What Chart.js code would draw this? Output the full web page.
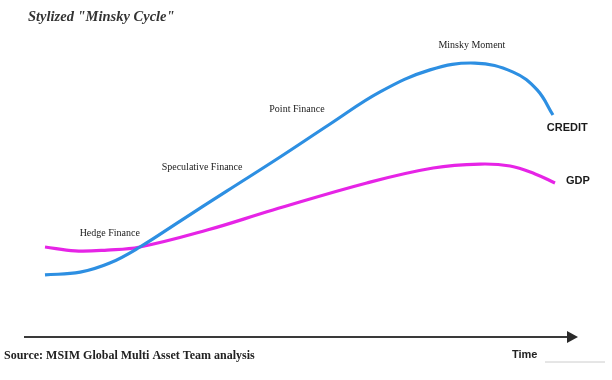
<!DOCTYPE html>
<html>
<head>
<meta charset="utf-8">
<script src="https://cdn.jsdelivr.net/npm/chart.js@4"></script>
<style>
  html, body { margin: 0; padding: 0; background: #fff; }
  #wrap { position: relative; width: 612px; height: 380px; }
</style>
</head>
<body>
<div id="wrap"><canvas id="minsky" width="612" height="380"></canvas></div>
<script>
// time runs 0..100 across the plot, level 0..100 is an arbitrary index
const creditTime  = [0, 6.9, 12.7, 18.6, 26.5, 35.7, 46.1, 55.9, 65.7, 75.5, 84.3, 91.8, 96.5, 99.6];
const creditLevel = [2.3, 3.6, 7.7, 15.0, 26.8, 40.5, 55.9, 70.9, 85.5, 95.5, 98.6, 94.5, 86.4, 75.0];

const gdpTime  = [0, 5.9, 12.2, 18.6, 31.8, 44.7, 63.1, 76.1, 85.3, 91.2, 96.1, 100];
const gdpLevel = [15.0, 13.2, 13.6, 15.0, 22.7, 31.8, 44.1, 50.9, 52.7, 51.8, 48.2, 44.1];

const phaseNames = ['Hedge Finance', 'Speculative Finance', 'Point Finance', 'Minsky Moment'];
const phaseTime  = [12.7, 30.8, 49.4, 83.7];
const phaseLevel = [21.4, 51.4, 77.7, 106.8];

const seriesNames = ['CREDIT', 'GDP'];
const seriesTagTime  = [102.4, 104.5];
const seriesTagLevel = [69.1, 45];

const toPoints = (xs, ys) => xs.map((x, i) => ({ x: x, y: ys[i] }));

const decorations = {
  id: 'decorations',
  afterDatasetsDraw(chart) {
    const ctx = chart.ctx;
    const xs = chart.scales.x, ys = chart.scales.y;
    ctx.save();

    // title
    ctx.fillStyle = '#333';
    ctx.font = 'italic bold 14.5px "Liberation Serif", serif';
    ctx.textBaseline = 'middle';
    ctx.textAlign = 'left';
    ctx.fillText('Stylized "Minsky Cycle"', 28, 17);

    // phase labels
    ctx.font = '10px "Liberation Serif", serif';
    ctx.textAlign = 'center';
    ctx.fillStyle = '#222';
    phaseNames.forEach((t, i) => {
      ctx.fillText(t, xs.getPixelForValue(phaseTime[i]), ys.getPixelForValue(phaseLevel[i]));
    });

    // series tags
    ctx.font = 'bold 11px "Liberation Sans", Arial, sans-serif';
    ctx.fillStyle = '#1a1a1a';
    seriesNames.forEach((t, i) => {
      ctx.fillText(t, xs.getPixelForValue(seriesTagTime[i]), ys.getPixelForValue(seriesTagLevel[i]));
    });

    // time arrow
    ctx.strokeStyle = '#3a3a3a';
    ctx.fillStyle = '#2a2a2a';
    ctx.lineWidth = 2.2;
    ctx.beginPath();
    ctx.moveTo(24, 337);
    ctx.lineTo(570, 337);
    ctx.stroke();
    ctx.beginPath();
    ctx.moveTo(578, 337);
    ctx.lineTo(567, 331);
    ctx.lineTo(567, 343);
    ctx.closePath();
    ctx.fill();

    // footer
    ctx.textAlign = 'left';
    ctx.fillStyle = '#222';
    ctx.font = 'bold 12px "Liberation Serif", serif';
    ctx.fillText('Source: MSIM Global Multi Asset Team analysis', 4, 356);
    ctx.font = 'bold 11px "Liberation Sans", Arial, sans-serif';
    ctx.fillText('Time', 512, 355);
    ctx.strokeStyle = '#ccc';
    ctx.lineWidth = 1;
    ctx.beginPath();
    ctx.moveTo(545, 362);
    ctx.lineTo(605, 362);
    ctx.stroke();

    ctx.restore();
  }
};

new Chart(document.getElementById('minsky'), {
  type: 'line',
  data: {
    datasets: [{
      label: 'CREDIT',
      data: toPoints(creditTime, creditLevel),
      borderColor: '#2d8fe2',
      borderWidth: 3.2,
      pointRadius: 0,
      tension: 0.4,
      clip: false
    }, {
      label: 'GDP',
      data: toPoints(gdpTime, gdpLevel),
      borderColor: '#e624e6',
      borderWidth: 3.2,
      pointRadius: 0,
      tension: 0.4,
      clip: false
    }]
  },
  options: {
    responsive: false,
    animation: false,
    layout: { padding: { left: 45, right: 57, top: 60, bottom: 100 } },
    plugins: { legend: { display: false }, tooltip: { enabled: false } },
    scales: {
      x: { type: 'linear', min: 0, max: 100, display: false },
      y: { min: 0, max: 100, display: false }
    }
  },
  plugins: [decorations]
});
</script>
</body>
</html>
